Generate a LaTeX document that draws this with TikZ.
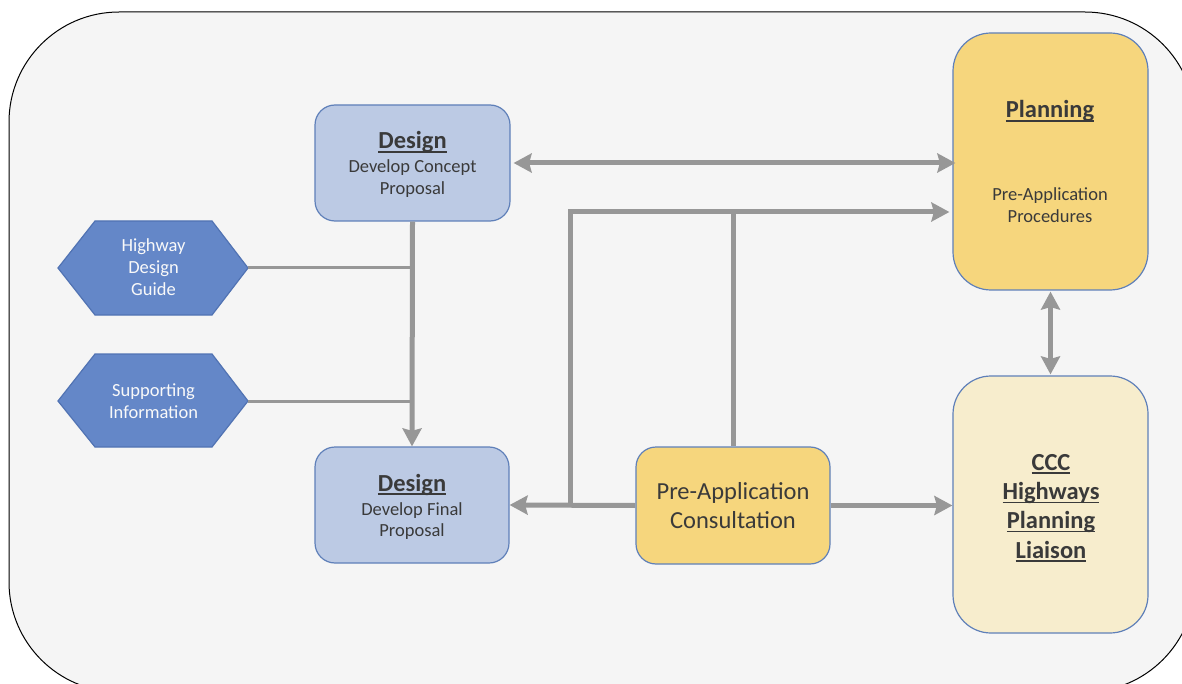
\documentclass[tikz,border=0pt]{standalone}
\usepackage{fontspec}
\setmainfont{Carlito}
\usetikzlibrary{arrows.meta}
\definecolor{bgc}{HTML}{F5F5F5}
\definecolor{dfill}{HTML}{BCCAE4}
\definecolor{bordc}{HTML}{5F80B9}
\definecolor{yfill}{HTML}{F6D67D}
\definecolor{lfill}{HTML}{F7EDCD}
\definecolor{hfill}{HTML}{6487C8}
\definecolor{hbord}{HTML}{5173B3}
\definecolor{arrc}{HTML}{979797}
\definecolor{textc}{HTML}{3A3A3A}
\newcommand{\ulx}[1]{\setbox0=\hbox{#1}\rlap{\rule[-3.6pt]{\wd0}{1.5pt}}\box0}
\newcommand{\hfont}{\fontsize{24.5}{29}\selectfont\bfseries}
\newcommand{\bfont}{\fontsize{18.5}{22}\selectfont}
\newcommand{\cfont}{\fontsize{24.5}{29}\selectfont}
\tikzset{
  box/.style={draw=bordc, line width=1.2pt, inner sep=0pt},
  txt/.style={inner sep=0pt, anchor=base, text=textc},
  htxt/.style={inner sep=0pt, anchor=base, text=white!95!gray, font=\bfont},
  hexa/.style={fill=hfill, draw=hbord, line width=1.2pt},
  conn/.style={draw=arrc, line width=5pt, line join=miter},
  thinconn/.style={draw=arrc, line width=3pt},
  tip/.tip={Stealth[length=18pt,width=19pt,inset=2.5pt]}
}
\begin{document}
\begin{tikzpicture}[x=1pt,y=-1pt]
\useasboundingbox (0,0) rectangle (1182,684);
\clip (0,0) rectangle (1182,684);
\fill[white] (0,0) rectangle (1182,684);
\draw[fill=bgc, draw=black, line width=1pt, rounded corners=110pt] (9,12) rectangle (1195,692);

% boxes
\node[box, fill=dfill, minimum width=195pt, minimum height=116pt, rounded corners=20pt] (dc) at (412.5,163) {};
\node[box, fill=dfill, minimum width=194pt, minimum height=116pt, rounded corners=20pt] (df) at (412,505) {};
\node[box, fill=yfill, minimum width=195pt, minimum height=257pt, rounded corners=38pt] (pl) at (1050.5,161.5) {};
\node[box, fill=lfill, minimum width=195pt, minimum height=257pt, rounded corners=38pt] (ccc) at (1050.5,504.5) {};
\node[box, fill=yfill, minimum width=194pt, minimum height=117pt, rounded corners=20pt] (pac) at (733,505.5) {};

% hexagons
\draw[hexa] (58,268) -- (95,221) -- (212,221) -- (248,268) -- (212,315) -- (95,315) -- cycle;
\coordinate (h1) at (248,268);
\draw[hexa] (58,401) -- (95,354) -- (212,354) -- (248,401) -- (212,447) -- (95,447) -- cycle;
\coordinate (h2) at (248,401);

% texts
\node[txt, font=\hfont] (t1) at (412.5,149) {\ulx{Design}};
\node[txt, font=\bfont] (t2) at (412.5,173) {Develop Concept};
\node[txt, font=\bfont] (t3) at (412.5,194.5) {Proposal};

\node[txt, font=\hfont] (t4) at (412,491) {\ulx{Design}};
\node[txt, font=\bfont] (t5) at (412,515) {Develop Final};
\node[txt, font=\bfont] (t6) at (412,536.5) {Proposal};

\node[txt, font=\hfont] (t7) at (1050,118) {\ulx{Planning}};
\node[txt, font=\bfont] (t8) at (1050,201) {Pre-Application};
\node[txt, font=\bfont] (t9) at (1050,223) {Procedures};

\node[txt, font=\hfont] (t10) at (1051,470) {\ulx{CCC}};
\node[txt, font=\hfont] (t11) at (1051,499.5) {\ulx{Highways}};
\node[txt, font=\hfont] (t12) at (1051,528.5) {\ulx{Planning}};
\node[txt, font=\hfont] (t13) at (1051,558) {\ulx{Liaison}};

\node[txt, font=\cfont] (t14) at (733,499) {Pre-Application};
\node[txt, font=\cfont] (t15) at (733,528) {Consultation};

\node[htxt] (t16) at (153.5,252) {Highway};
\node[htxt] (t17) at (153.5,274) {Design};
\node[htxt] (t18) at (153.5,296) {Guide};
\node[htxt] (t19) at (153.5,396) {Supporting};
\node[htxt] (t20) at (153.5,418) {Information};

% connectors
\draw[thinconn] (h1) -- (h1 -| dc.south);
\draw[thinconn] (h2) -- (h2 -| dc.south);
\draw[conn, -{tip}] (dc.south) -- (df.north);
\draw[conn, {tip}-{tip}] ([xshift=3pt]dc.east) -- ([xshift=3pt]dc.east -| pl.west);
\draw[conn, -{tip}] (pac.west) -- (df.east);
\coordinate (ja) at (570,505.5);
\coordinate (jb) at (570,212);
\draw[conn, -{tip}] (ja) -- (jb) -- ([xshift=-3pt]jb -| pl.west);
\draw[conn] (pac.north) -- (pac.north |- jb);
\draw[conn, -{tip}] (pac.east) -- (pac.east -| ccc.west);
\draw[conn, {tip}-{tip}] ([yshift=-1pt]pl.south) -- ([yshift=1pt]ccc.north);
\end{tikzpicture}
\end{document}
